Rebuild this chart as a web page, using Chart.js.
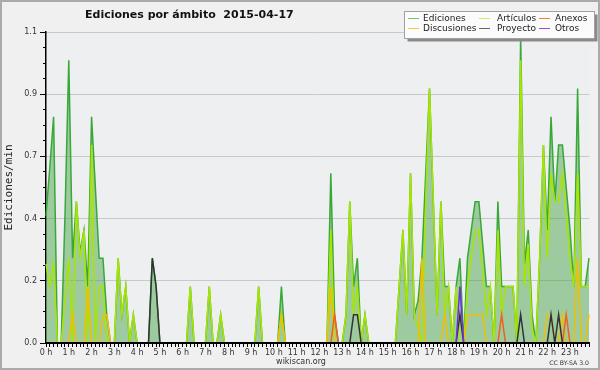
<!DOCTYPE html>
<html><head><meta charset="utf-8">
<script src="https://cdn.jsdelivr.net/npm/chart.js@4.4.1/dist/chart.umd.min.js"></script>
<style>html,body{margin:0;padding:0;background:#f0f0f0}canvas{display:block}</style>
</head><body>
<canvas id="c" width="600" height="370"></canvas>
<script>
// 10-minute slots from 0 h to 23:50
const slots = Array.from({length: 144}, (_, i) => i);
const hourLabels = ['0 h','1 h','2 h','3 h','4 h','5 h','6 h','7 h','8 h','9 h','10 h','11 h','12 h','13 h','14 h','15 h','16 h','17 h','18 h','19 h','20 h','21 h','22 h','23 h'];

const ediciones = [
0.45,0.62,0.8,0,0,0.45,1.0,0.3,0.5,0.32,0.4,0.2, 0.8,0.55,0.3,0.3,0.1,0,0,0.3,0.1,0.2,0,0.1,
0,0,0,0,0.3,0.2,0,0,0,0,0,0, 0,0,0.2,0,0,0,0,0.2,0,0,0.1,0,
0,0,0,0,0,0,0,0,0.2,0,0,0, 0,0,0.2,0,0,0,0,0,0,0,0,0,
0,0,0,0.6,0.1,0,0,0.1,0.5,0.2,0.3,0, 0.1,0,0,0,0,0,0,0,0,0.2,0.4,0.1,
0.6,0.1,0.15,0.3,0.6,0.9,0.5,0.1,0.5,0.2,0.2,0, 0.2,0.3,0,0.3,0.4,0.5,0.5,0.35,0.2,0.2,0,0.5,
0.2,0.2,0.2,0.2,0,1.08,0.28,0.4,0.1,0,0.3,0.7, 0.4,0.8,0.5,0.7,0.7,0.55,0.4,0.2,0.9,0.2,0.2,0.3
];
const articulos = [
0.28,0.2,0.28,0,0,0.15,0.3,0,0.5,0.3,0.4,0, 0.7,0,0.2,0.2,0,0,0,0.3,0.1,0.2,0,0.1,
0,0,0,0,0,0,0,0,0,0,0,0, 0,0,0.2,0,0,0,0,0.2,0,0,0.1,0,
0,0,0,0,0,0,0,0,0.2,0,0,0, 0,0,0.1,0,0,0,0,0,0,0,0,0,
0,0,0,0.4,0,0,0,0.1,0.5,0.1,0.2,0, 0.1,0,0,0,0,0,0,0,0,0.2,0.4,0.1,
0.6,0.1,0.05,0,0.5,0.9,0.5,0.1,0.5,0.1,0.2,0, 0.2,0,0,0.2,0.3,0.4,0.4,0.25,0.1,0.2,0,0.4,
0.1,0.2,0.2,0.2,0,1.0,0.2,0.35,0.05,0,0.3,0.7, 0.3,0.6,0.5,0.5,0.6,0.45,0.3,0.2,0.6,0.2,0.2,0.2
];
const discusiones = [
0,0,0,0,0,0,0,0.1,0,0,0,0.2, 0,0,0,0.1,0.1,0,0,0,0,0,0,0,
0,0,0,0,0,0,0,0,0,0,0,0, 0,0,0,0,0,0,0,0,0,0,0,0,
0,0,0,0,0,0,0,0,0,0,0,0, 0,0,0.1,0,0,0,0,0,0,0,0,0,
0,0,0,0.2,0,0,0,0,0,0,0,0, 0,0,0,0,0,0,0,0,0,0,0,0,
0,0,0,0.3,0,0,0,0,0,0.1,0,0, 0,0,0,0.1,0.1,0.1,0.1,0.1,0,0,0,0,
0,0,0,0,0,0,0,0,0,0,0,0, 0.1,0.1,0,0,0.1,0,0,0,0.3,0,0,0.1
];
const anexos = [
0,0,0,0,0,0,0,0,0,0,0,0, 0,0,0,0,0,0,0,0,0,0,0,0,
0,0,0,0,0,0,0,0,0,0,0,0, 0,0,0,0,0,0,0,0,0,0,0,0,
0,0,0,0,0,0,0,0,0,0,0,0, 0,0,0,0,0,0,0,0,0,0,0,0,
0,0,0,0,0.1,0,0,0,0,0,0,0, 0,0,0,0,0,0,0,0,0,0,0,0,
0,0,0,0,0,0,0,0,0,0,0,0, 0,0,0,0,0,0,0,0,0,0,0,0,
0.1,0,0,0,0,0,0,0,0,0,0,0, 0,0,0,0,0,0.1,0,0,0,0,0,0
];
const proyecto = [
0,0,0,0,0,0,0,0,0,0,0,0, 0,0,0,0,0,0,0,0,0,0,0,0,
0,0,0,0,0.3,0.2,0,0,0,0,0,0, 0,0,0,0,0,0,0,0,0,0,0,0,
0,0,0,0,0,0,0,0,0,0,0,0, 0,0,0,0,0,0,0,0,0,0,0,0,
0,0,0,0,0,0,0,0,0,0.1,0.1,0, 0,0,0,0,0,0,0,0,0,0,0,0,
0,0,0,0,0,0,0,0,0,0,0,0, 0,0.1,0,0,0,0,0,0,0,0,0,0,
0,0,0,0,0,0.1,0,0,0,0,0,0, 0,0.1,0,0.1,0,0,0,0,0,0,0,0
];
const otros = [
0,0,0,0,0,0,0,0,0,0,0,0, 0,0,0,0,0,0,0,0,0,0,0,0,
0,0,0,0,0,0,0,0,0,0,0,0, 0,0,0,0,0,0,0,0,0,0,0,0,
0,0,0,0,0,0,0,0,0,0,0,0, 0,0,0,0,0,0,0,0,0,0,0,0,
0,0,0,0,0,0,0,0,0,0,0,0, 0,0,0,0,0,0,0,0,0,0,0,0,
0,0,0,0,0,0,0,0,0,0,0,0, 0,0.2,0,0,0,0,0,0,0,0,0,0,
0,0,0,0,0,0,0,0,0,0,0,0, 0,0,0,0,0,0,0,0,0,0,0,0
];

Chart.defaults.font.family = "'DejaVu Sans', sans-serif";
Chart.defaults.color = '#333';

const legendLayout = {colLine: [408, 479, 539], colText: [423, 497, 555], rowY: [18.5, 28.5]};

const decor = {
  id: 'decor',
  beforeDraw(chart) {
    const {ctx, chartArea: a, width, height} = chart;
    ctx.save();
    ctx.fillStyle = '#f0f0f0';
    ctx.fillRect(0, 0, width, height);
    ctx.fillStyle = '#edeff1';
    ctx.fillRect(a.left, a.top, a.right - a.left, a.bottom - a.top);
    ctx.strokeStyle = '#aaaaaa';
    ctx.lineWidth = 2;
    ctx.strokeRect(1, 1, width - 2, height - 2);
    ctx.restore();
  },
  afterDraw(chart) {
    const {ctx} = chart;
    ctx.save();
    ctx.fillStyle = '#111';
    ctx.font = "bold 11px 'DejaVu Sans'";
    ctx.textAlign = 'left';
    ctx.textBaseline = 'alphabetic';
    ctx.fillText('Ediciones por ámbito  2015-04-17', 85, 17.5);
    ctx.fillStyle = '#8a8a8a';
    ctx.fillRect(407.5, 14.5, 190, 27);
    ctx.fillStyle = '#fbfbfb';
    ctx.fillRect(404.5, 11.5, 190, 27);
    ctx.strokeStyle = '#a0a0a0';
    ctx.lineWidth = 1;
    ctx.strokeRect(404.5, 11.5, 190, 27);
    ctx.font = "9px 'DejaVu Sans'";
    ctx.textBaseline = 'middle';
    chart.data.datasets.forEach((ds, k) => {
      const col = Math.floor(k / 2), row = k % 2;
      const y = legendLayout.rowY[row];
      ctx.strokeStyle = ds.legendColor;
      ctx.lineWidth = 1;
      ctx.beginPath();
      ctx.moveTo(legendLayout.colLine[col], y);
      ctx.lineTo(legendLayout.colLine[col] + 11, y);
      ctx.stroke();
      ctx.fillStyle = '#222';
      ctx.fillText(ds.label, legendLayout.colText[col], y + 0.5);
    });
    ctx.textBaseline = 'alphabetic';
    ctx.fillStyle = '#333';
    ctx.font = "8px 'DejaVu Sans'";
    ctx.textAlign = 'center';
    ctx.fillText('wikiscan.org', 301, 364);
    ctx.font = "6.2px 'DejaVu Sans'";
    ctx.textAlign = 'right';
    ctx.fillText('CC BY-SA 3.0', 589, 365);
    ctx.restore();
  }
};

const mk = (label, data, color, legendColor, order, extra) => Object.assign({
  label, data, borderColor: color, legendColor, borderWidth: 1.5, pointRadius: 0,
  tension: 0, fill: false, order, clip: {left: 2, top: 4, right: 2, bottom: -1}
}, extra || {});

new Chart(document.getElementById('c'), {
  type: 'line',
  data: {
    labels: slots,
    datasets: [
      mk('Ediciones', ediciones, '#38a838', '#70c870', 10, {fill: 'origin', backgroundColor: 'rgba(60,160,60,0.45)'}),
      mk('Discusiones', discusiones, '#f0c000', '#f0cc40', 4),
      mk('Artículos', articulos, '#a8e600', '#c8f060', 5),
      mk('Proyecto', proyecto, '#333333', '#666666', 2),
      mk('Anexos', anexos, '#f06020', '#f08040', 3),
      mk('Otros', otros, '#7030e0', '#8a50ee', 1)
    ]
  },
  options: {
    responsive: false,
    animation: false,
    devicePixelRatio: 1,
    layout: {padding: {left: 0, top: 32, right: 11, bottom: 0}},
    plugins: {legend: {display: false}, tooltip: {enabled: false}, title: {display: false}},
    scales: {
      x: {
        type: 'linear', min: 0, max: 143, z: 1,
        afterFit: s => { s.height = 27; },
        border: {display: true, color: '#000', width: 2},
        grid: {drawOnChartArea: false, drawTicks: true, tickLength: 4, tickColor: '#000', tickWidth: 1},
        ticks: {
          stepSize: 1, autoSkip: false, maxRotation: 0, minRotation: 0, maxTicksLimit: 1000,
          padding: 1, font: {size: 8}, color: '#333',
          callback: v => (v % 6 === 0 ? hourLabels[v / 6] : '')
        }
      },
      y: {
        type: 'linear', min: 0, max: 1.1, weight: 1,
        afterFit: s => { s.width = 46; },
        border: {display: false},
        grid: {
          drawOnChartArea: true, tickLength: 6, tickColor: '#000', lineWidth: 1,
          color: c => (c.tick && c.tick.value === 0 ? 'rgba(0,0,0,0)' : '#c8c8c8')
        },
        ticks: {
          stepSize: 0.22, padding: 3, font: {size: 8}, color: '#333',
          callback: v => v.toFixed(1)
        },
        title: {display: true, text: 'Ediciones/min', padding: {top: 3, bottom: 0},
          font: {family: "'DejaVu Sans Mono'", size: 11}, color: '#222'}
      },
      y2: {
        type: 'linear', position: 'left', min: 0, max: 1.1, weight: 0, z: 1,
        afterFit: s => { s.width = 0; },
        border: {display: true, color: '#000', width: 1.5},
        grid: {drawOnChartArea: false, tickLength: 3, tickColor: '#000'},
        ticks: {display: false, stepSize: 0.055, maxTicksLimit: 1000}
      }
    }
  },
  plugins: [decor]
});
</script>
</body></html>
